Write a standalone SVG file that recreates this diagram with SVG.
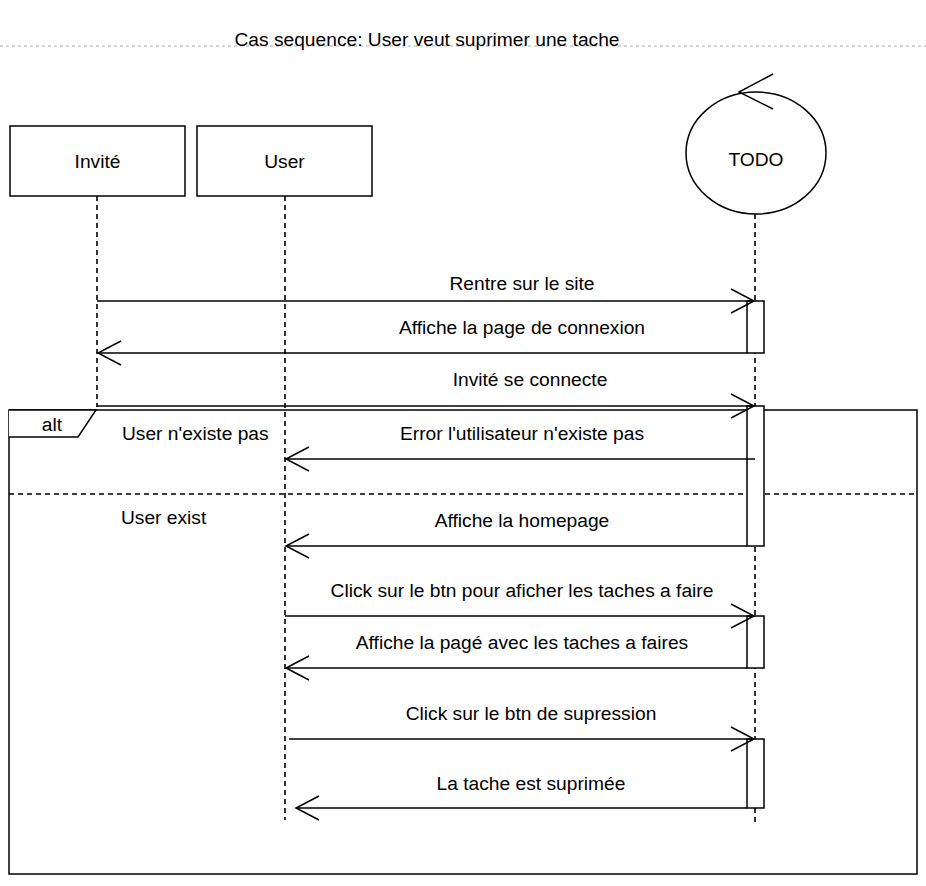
<svg xmlns="http://www.w3.org/2000/svg" width="926" height="886" viewBox="0 0 926 886">
<style>
text{font-family:"Liberation Sans",Arial,sans-serif;font-size:19.2px;fill:#000}
.box{fill:#fff;stroke:#000;stroke-width:1.5}
.life{stroke:#000;stroke-width:1.6;stroke-dasharray:5 4;fill:none}
.msg{stroke:#000;stroke-width:1.5;fill:none}
.act{fill:#fff;stroke:#000;stroke-width:1.5}
.lbl{text-anchor:middle}
</style>
<defs>
<marker id="open" viewBox="0 0 26 26" refX="24" refY="13" markerWidth="26" markerHeight="26" markerUnits="userSpaceOnUse" orient="auto">
<path d="M1,1 L24,13 L1,25" fill="none" stroke="#000" stroke-width="1.5"/>
</marker>
</defs>
<rect width="926" height="886" fill="#fff"/>
<g id="title">
<line x1="0" y1="46" x2="926" y2="46" stroke="#aaa" stroke-width="1" stroke-dasharray="3 3"/>
<text x="427" y="46" class="lbl">Cas sequence: User veut suprimer une tache</text>
</g>
<g id="lifelines">
<line class="life" x1="97" y1="196" x2="97" y2="407"/>
<line class="life" x1="285" y1="196" x2="285" y2="820"/>
<line class="life" x1="755" y1="214" x2="755" y2="826"/>
</g>
<g id="invite">
<rect class="box" x="10" y="126" width="175" height="70"/>
<text x="97.5" y="168" class="lbl">Invité</text>
</g>
<g id="user">
<rect class="box" x="197" y="126" width="175" height="70"/>
<text x="284.5" y="168" class="lbl">User</text>
</g>
<g id="todo">
<ellipse class="box" cx="756" cy="153" rx="70" ry="61"/>
<path d="M773,74 L739,92 L773,109" fill="none" stroke="#000" stroke-width="1.5"/>
<text x="756" y="166" class="lbl">TODO</text>
</g>
<g id="alt">
<rect x="9" y="410" width="908" height="464" fill="none" stroke="#000" stroke-width="1.5"/>
<path d="M9,410 L96,410 L78,437 L9,437" fill="#fff" stroke="#000" stroke-width="1.5"/>
<text x="52" y="431" class="lbl">alt</text>
<line x1="9" y1="494" x2="917" y2="494" stroke="#000" stroke-width="1.5" stroke-dasharray="5 4"/>
<text x="122" y="440">User n'existe pas</text>
<text x="121" y="524">User exist</text>
</g>
<g id="activations">
<rect class="act" x="747" y="301" width="17" height="52"/>
<rect class="act" x="747" y="406" width="17" height="140"/>
<rect class="act" x="747" y="616" width="17" height="52"/>
<rect class="act" x="747" y="739" width="17" height="69"/>
</g>
<g id="connectors">
<line class="msg" x1="97" y1="301" x2="754" y2="301" marker-end="url(#open)"/>
<line class="msg" x1="747" y1="353" x2="98" y2="353" marker-end="url(#open)"/>
<line class="msg" x1="97" y1="406" x2="754" y2="406" marker-end="url(#open)"/>
<line class="msg" x1="755" y1="459" x2="286" y2="459" marker-end="url(#open)"/>
<line class="msg" x1="747" y1="546" x2="286" y2="546" marker-end="url(#open)"/>
<line class="msg" x1="285" y1="616" x2="754" y2="616" marker-end="url(#open)"/>
<line class="msg" x1="747" y1="668" x2="286" y2="668" marker-end="url(#open)"/>
<line class="msg" x1="289" y1="739" x2="754" y2="739" marker-end="url(#open)"/>
<line class="msg" x1="747" y1="808" x2="296" y2="808" marker-end="url(#open)"/>
</g>
<g id="labels">
<text x="522" y="290" class="lbl">Rentre sur le site</text>
<text x="522" y="334" class="lbl">Affiche la page de connexion</text>
<text x="530" y="386" class="lbl">Invité se connecte</text>
<text x="522" y="440" class="lbl">Error l'utilisateur n'existe pas</text>
<text x="522" y="527" class="lbl">Affiche la homepage</text>
<text x="522" y="597" class="lbl">Click sur le btn pour aficher les taches a faire</text>
<text x="522" y="649" class="lbl">Affiche la pagé avec les taches a faires</text>
<text x="531" y="720" class="lbl">Click sur le btn de supression</text>
<text x="531" y="790" class="lbl">La tache est suprimée</text>
</g>
</svg>
